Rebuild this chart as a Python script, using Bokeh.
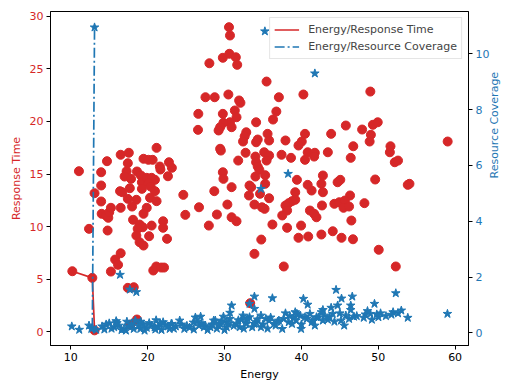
import math
from bokeh.plotting import figure
from bokeh.models import Range1d, LinearAxis, Legend, LegendItem, FixedTicker
from bokeh.embed import file_html
from bokeh.resources import INLINE

# ---- data: Energy vs Response Time (red circles) ----
rt_energy = [10.2, 12.8, 13.09, 11.06, 12.37, 14.79, 13.95, 13.95, 13.95, 14.02, 14.58, 14.88, 15.0, 14.71,
             13.09, 15.22, 16.49, 16.49, 17.55, 17.42, 17.26, 17.0, 17.84, 18.61, 19.12, 19.25, 19.88, 20.52,
             20.95, 20.1, 19.25, 20.39, 17.68, 16.41, 16.7, 20.95, 19.46, 20.1, 20.65, 21.16, 22.77, 23.15,
             21.59, 21.66, 22.64, 24.64, 20.31, 21.16, 17.42, 18.53, 17.97, 19.88, 19.46, 24.9, 18.1, 22.01,
             22.01, 20.52, 18.95, 19.37, 18.7, 18.53, 18.95, 19.46, 20.19, 22.52, 16.49, 15.77, 16.15, 15.22,
             17.42, 18.19, 18.61, 17.77, 20.73, 21.12, 21.75, 22.13, 26.59, 26.55, 26.68, 30.58, 30.71, 28.03,
             29.78, 30.63, 31.47, 31.65, 35.47, 27.52, 28.72, 30.5, 31.9, 32.07, 37.07, 40.26, 29.78, 31.34,
             31.56, 30.71, 29.86, 29.43, 30.92, 29.23, 34.11, 36.31, 36.74, 32.83, 32.62, 32.41, 34.32, 34.11,
             35.6, 35.8, 37.93, 40.47, 40.05, 39.62, 29.43, 43.87, 32.74, 35.16, 37.42, 40.82, 41.75, 29.52,
             34.02, 35.8, 38.65, 41.66, 40.47, 43.44, 31.78, 34.11, 34.32, 35.47, 34.53, 34.02, 35.29, 29.78,
             29.86, 35.29, 39.42, 42.8, 40.82, 42.6, 41.33, 42.8, 39.2, 33.25, 33.47, 30.92, 28.67, 33.18,
             34.62, 35.8, 39.2, 38.78, 38.35, 37.93, 38.14, 37.51, 30.37, 33.89, 34.87, 35.21, 41.11, 41.66,
             41.96, 42.68, 44.29, 29.01, 30.92, 31.56, 27.96, 36.23, 38.14, 39.96, 39.62, 40.89, 42.6, 44.08,
             34.78, 33.89, 37.71, 33.34, 46.42, 51.51, 52.15, 52.57, 44.71, 45.06, 49.6, 53.84, 54.06, 46.33,
             44.93, 45.66, 45.48, 46.2, 48.2, 46.5, 45.22, 46.71, 50.06, 52.28, 48.97, 45.78, 49.3, 49.93,
             47.9, 49.04, 48.88, 46.75, 51.59, 59.03]
rt_values = [5.76, 5.13, 0.14, 15.27, 9.79, 9.63, 12.39, 13.91, 15.17, 11.22, 11.06, 10.84, 11.37, 16.22,
             13.18, 11.79, 11.79, 16.83, 17.02, 16.03, 15.27, 14.76, 14.54, 15.24, 14.86, 14.22, 14.64, 14.64,
             14.45, 14.13, 13.59, 13.81, 13.65, 13.37, 13.27, 13.37, 16.45, 16.35, 16.35, 17.49, 16.12, 15.59,
             15.71, 15.43, 14.79, 13.02, 12.74, 12.42, 12.64, 12.55, 11.91, 11.79, 11.22, 11.12, 10.65, 10.51,
             9.89, 10.1, 10.2, 9.94, 9.79, 9.15, 8.52, 8.2, 9.09, 8.84, 7.47, 6.87, 6.37, 5.73,
             4.18, 4.24, 1.17, 0.69, 5.83, 6.21, 6.11, 6.11, 20.72, 19.2, 11.84, 28.96, 28.17, 25.53,
             26.05, 26.43, 26.1, 25.38, 23.79, 22.3, 22.3, 22.56, 21.99, 21.77, 22.3, 22.56, 20.72, 21.04,
             20.4, 19.92, 19.87, 19.45, 19.45, 19.14, 19.92, 20.18, 20.94, 18.97, 18.59, 18.09, 18.28, 18.02,
             18.82, 18.19, 18.19, 18.82, 18.09, 17.71, 17.4, 18.82, 17.02, 17.07, 16.83, 17.07, 17.02, 17.23,
             16.66, 16.76, 16.54, 16.66, 16.35, 17.07, 16.28, 16.12, 15.71, 16.28, 15.4, 14.76, 14.89, 15.17,
             14.54, 14.07, 14.45, 14.86, 13.97, 14.07, 13.43, 13.27, 13.27, 13.91, 13.75, 13.75, 13.37, 12.96,
             13.12, 12.7, 12.55, 12.42, 12.23, 12.01, 11.53, 11.06, 12.1, 12.1, 11.84, 11.69, 11.53, 11.22,
             10.89, 12.01, 12.17, 11.15, 10.89, 10.51, 10.1, 10.2, 9.89, 10.1, 8.94, 9.06, 9.25, 9.56,
             8.77, 7.41, 6.21, 2.72, 16.54, 17.07, 16.12, 16.28, 14.22, 14.45, 14.48, 13.97, 14.07, 12.96,
             12.32, 12.48, 11.79, 11.91, 12.23, 10.58, 8.94, 8.8, 7.8, 6.21, 22.84, 19.61, 19.68, 19.92,
             19.23, 18.73, 18.09, 17.64, 17.64, 18.09]

# ---- data: Energy vs Resource Coverage (blue stars) ----
rc_energy = [13.09, 12.8, 35.25, 41.75, 38.27, 34.74, 16.41, 17.68, 18.53, 33.89, 36.23, 30.92, 40.26, 40.82,
             44.51, 45.22, 46.62, 52.28, 49.51, 59.0, 53.84, 51.93, 52.57, 51.72, 48.97, 48.33, 49.81, 50.02,
             49.17, 48.11, 46.42, 46.42, 45.78, 45.15, 45.57, 46.2, 46.84, 44.71, 43.87, 44.08, 43.44, 42.8,
             42.6, 41.96, 41.33, 39.84, 40.47, 39.96, 39.42, 38.98, 38.35, 37.93, 37.51, 37.07, 36.44, 35.38,
             34.74, 34.11, 33.89, 32.83, 32.2, 30.29, 29.86, 29.43, 28.8, 28.16, 27.52, 26.89, 26.68, 24.77,
             23.07, 22.86, 10.13, 11.1, 12.37, 12.67, 13.31, 14.07, 15.0, 15.64, 16.28, 16.91, 17.55, 18.4,
             18.19, 19.04, 19.88, 20.52, 21.37, 22.01, 22.64, 23.15, 28.59, 30.71, 31.56, 32.83, 33.25, 35.8,
             39.2, 41.11, 41.53, 42.8, 43.66, 27.32, 29.23, 30.29, 31.98, 33.89, 34.74, 36.65, 38.78, 41.75,
             30.71, 32.41, 14.37, 15.9, 17.17, 19.46, 21.0, 21.63, 23.66, 24.17, 25.45, 25.96, 26.21, 33.25,
             14.6, 15.3, 16.0, 16.6, 17.9, 18.8, 19.6, 20.2, 20.9, 21.8, 22.3, 23.4, 24.4, 25.1,
             26.0, 26.4, 27.0, 27.8, 28.4, 29.0, 29.6, 30.0, 30.5, 31.2, 31.8, 32.5, 33.0, 33.6,
             34.3, 35.0, 35.6, 36.0, 36.9, 37.7, 38.5, 39.3, 40.0, 40.7, 42.2, 43.0, 44.3, 45.0,
             47.2, 48.6, 50.3, 51.0, 53.0, 21.1, 19.1, 17.3]
rc_values = [10.95, 0.18, 10.81, 9.3, 5.7, 5.16, 2.08, 1.55, 1.46, 1.3, 1.24, 0.98, 1.22, 1.01,
             1.54, 1.23, 1.3, 1.42, 1.04, 0.68, 0.54, 0.74, 0.7, 0.65, 0.68, 0.66, 0.66, 0.56,
             0.47, 0.54, 0.98, 0.82, 0.62, 0.44, 0.26, 0.5, 0.58, 0.98, 0.9, 0.68, 0.47, 0.82,
             0.74, 0.56, 0.38, 0.62, 0.56, 0.14, 0.68, 0.54, 0.38, 0.7, 0.14, 0.44, 0.32, 0.5,
             0.62, 0.38, 0.86, 0.32, 0.47, 0.38, 0.58, 0.32, 0.44, 0.2, 0.26, 0.58, 0.26, 0.14,
             0.32, 0.14, 0.23, 0.11, 0.26, 0.14, 0.11, 0.23, 0.34, 0.2, 0.26, 0.14, 0.23, 0.44,
             0.14, 0.14, 0.18, 0.26, 0.23, 0.38, 0.23, 0.32, 0.44, 0.5, 0.32, 0.44, 0.56, 0.44,
             0.74, 0.68, 0.44, 0.44, 0.56, 0.2, 0.26, 0.2, 0.2, 0.32, 0.2, 0.26, 0.32, 0.26,
             0.72, 0.62, 0.12, 0.42, 0.08, 0.3, 0.12, 0.33, 0.23, 0.44, 0.19, 0.37, 0.55, 1.04,
             0.3, 0.15, 0.35, 0.1, 0.3, 0.25, 0.08, 0.35, 0.2, 0.1, 0.28, 0.15, 0.3, 0.25,
             0.12, 0.4, 0.35, 0.1, 0.3, 0.15, 0.42, 0.1, 0.32, 0.25, 0.45, 0.15, 0.5, 0.2,
             0.48, 0.3, 0.15, 0.55, 0.4, 0.5, 0.6, 0.45, 0.3, 0.5, 0.55, 0.62, 0.4, 0.7,
             0.6, 0.78, 0.7, 0.6, 0.8, 0.45, 0.4, 0.4]

# ---- pareto lines ----
front_rt_energy = [10.2, 12.8, 13.09]
front_rt_values = [5.76, 5.13, 0.14]
front_rc_energy = [12.8, 13.09]
front_rc_values = [0.18, 10.95]

x_ticks = [10, 20, 30, 40, 50, 60]
rt_ticks = [0, 5, 10, 15, 20, 25, 30]
rc_ticks = [0, 2, 4, 6, 8, 10]

RED = "#d62728"
BLUE = "#1f77b4"
FONT = "DejaVu Sans"
FS = "11px"

p = figure(width=510, height=385, output_backend="svg", toolbar_location=None,
           x_range=Range1d(7.36, 61.74), y_range=Range1d(-1.30, 30.45),
           min_border_left=50, min_border_right=33, min_border_top=11, min_border_bottom=40)
p.extra_y_ranges = {"rc": Range1d(-0.455, 11.52)}

p.grid.visible = False
p.outline_line_color = "black"
p.outline_line_width = 1
p.outline_line_alpha = 1
p.background_fill_color = "white"
p.border_fill_color = "white"

right_axis = LinearAxis(y_range_name="rc", axis_label="Resource Coverage")
p.add_layout(right_axis, "right")

p.xaxis.axis_label = "Energy"
p.yaxis[0].axis_label = "Response Time"

for ax in [p.xaxis[0], p.yaxis[0], right_axis]:
    ax.axis_line_color = "black"
    ax.major_tick_line_color = "black"
    ax.minor_tick_line_color = None
    ax.major_tick_in = 0
    ax.major_tick_out = 4
    ax.major_label_standoff = 3
    ax.major_label_text_font = FONT
    ax.major_label_text_font_size = FS
    ax.axis_label_text_font = FONT
    ax.axis_label_text_font_size = FS
    ax.axis_label_text_font_style = "normal"
    ax.axis_label_standoff = 4

p.xaxis[0].ticker = FixedTicker(ticks=x_ticks)
p.yaxis[0].ticker = FixedTicker(ticks=rt_ticks)
right_axis.ticker = FixedTicker(ticks=rc_ticks)
right_axis.axis_label_standoff = 2
right_axis.axis_label_orientation = math.pi / 2

p.xaxis[0].major_label_text_color = "black"
p.xaxis[0].axis_label_text_color = "black"
p.yaxis[0].major_label_text_color = RED
p.yaxis[0].axis_label_text_color = RED
right_axis.major_label_text_color = BLUE
right_axis.axis_label_text_color = BLUE

p.scatter(rt_energy, rt_values, marker="circle", size=9, fill_color=RED, line_color=RED)
red_line = p.line(front_rt_energy, front_rt_values, line_color=RED, line_width=1.7)

p.scatter(rc_energy, rc_values, marker="star", size=9, fill_color=BLUE, line_color=BLUE,
          y_range_name="rc")
blue_line = p.line(front_rc_energy, front_rc_values, line_color=BLUE, line_width=1.7,
                   line_dash="10 3 2 3", y_range_name="rc")

legend = Legend(items=[LegendItem(label="Energy/Response Time", renderers=[red_line]),
                       LegendItem(label="Energy/Resource Coverage", renderers=[blue_line])],
                location="top_right")
legend.label_text_font = FONT
legend.label_text_font_size = FS
legend.glyph_width = 25
legend.glyph_height = 15
legend.label_height = 15
legend.label_standoff = 9
legend.spacing = 2
legend.padding = 4
legend.margin = 6
legend.border_line_color = "#cccccc"
legend.border_line_width = 1
legend.background_fill_alpha = 0.8
p.add_layout(legend)

open("out.html", "w").write(file_html(p, INLINE))
